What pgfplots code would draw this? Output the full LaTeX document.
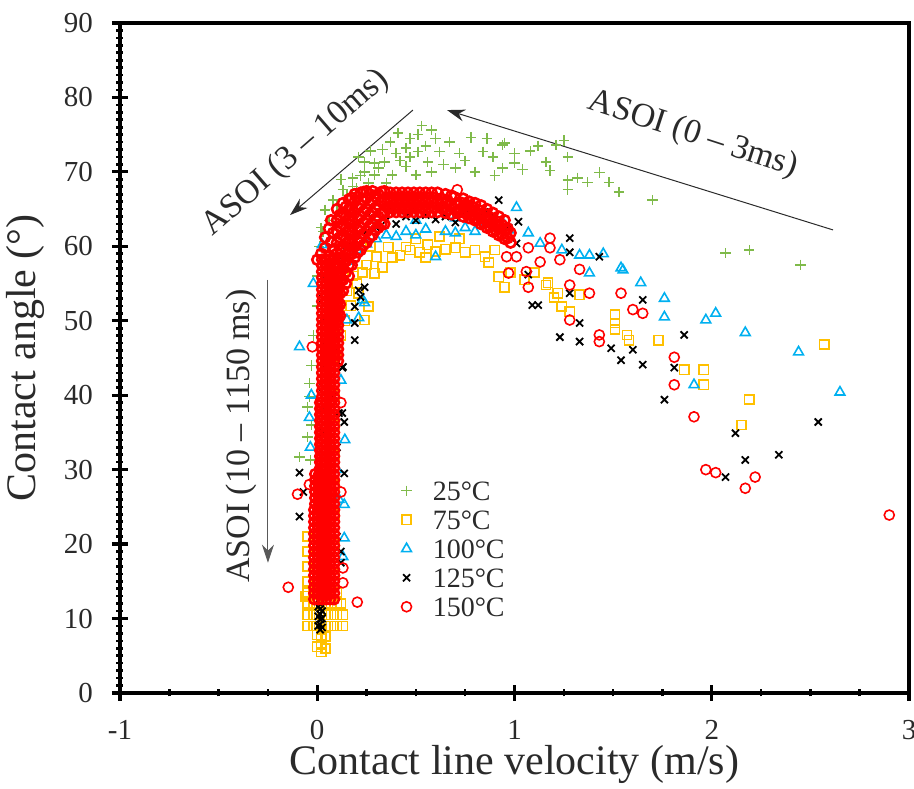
\documentclass[border=0pt]{standalone}
\usepackage{fontspec}
\setmainfont{Liberation Serif}
\usepackage{pgfplots}
\pgfplotsset{compat=1.18}
\usepackage{pgfplotstable}
\usetikzlibrary{arrows.meta}
\definecolor{cgreen}{HTML}{7FBA4A}
\definecolor{corange}{HTML}{FFC000}
\definecolor{cblue}{HTML}{00B0F0}
\definecolor{cred}{HTML}{FF0000}
\definecolor{ctext}{HTML}{2A2A2A}
\pgfplotsset{
 sG/.style={only marks, mark=+, mark size=2.6pt, color=cgreen, mark options={line width=0.7pt}},
 sO/.style={only marks, mark=square, mark size=2.3pt, color=corange, mark options={line width=0.8pt}},
 sB/.style={only marks, mark=triangle, mark size=2.8pt, color=cblue, mark options={line width=0.8pt}},
 sK/.style={only marks, mark=x, mark size=2.5pt, color=black, mark options={line width=0.9pt}},
 sR/.style={only marks, mark=o, mark size=2.5pt, color=cred, mark options={line width=0.8pt}},
 sRb/.style={only marks, mark=o, mark size=2.5pt, color=cred, mark options={line width=1.3pt}},
}
\pgfplotstableread{
y a b c d e f
12.6 -0.015 0.005 0.025 0.045 0.065 0.085
13.4 -0.015 0.005 0.025 0.045 0.065 0.085
14.2 -0.015 0.005 0.025 0.045 0.065 0.085
15.0 -0.015 0.005 0.025 0.045 0.065 0.085
15.8 -0.015 0.005 0.025 0.045 0.065 0.085
16.6 -0.015 0.005 0.025 0.045 0.065 0.085
17.4 -0.015 0.005 0.025 0.045 0.065 0.085
18.2 -0.015 0.005 0.025 0.045 0.065 0.085
19.0 -0.015 0.005 0.025 0.045 0.065 0.085
19.8 -0.015 0.005 0.025 0.045 0.065 0.085
20.6 -0.015 0.005 0.025 0.045 0.065 0.085
21.4 -0.015 0.005 0.025 0.045 0.065 0.085
22.2 -0.015 0.005 0.025 0.045 0.065 0.085
23.0 -0.015 0.005 0.025 0.045 0.065 0.085
23.8 -0.015 0.005 0.025 0.045 0.065 0.085
24.6 -0.015 0.005 0.025 0.045 0.065 0.085
25.4 -0.010 0.010 0.025 0.045 0.065 0.085
26.2 -0.010 0.010 0.025 0.045 0.065 0.085
27.0 -0.010 0.010 0.025 0.045 0.065 0.085
27.8 -0.010 0.010 0.025 0.045 0.065 0.085
28.6 -0.010 0.010 0.025 0.045 0.065 0.085
29.4 -0.010 0.010 0.025 0.045 0.065 0.085
}\redlow
\pgfplotstableread{
y a b c d e f
30.2 0.015 0.025 0.045 0.065 0.085 nan
31.0 0.015 0.025 0.045 0.065 0.085 nan
31.8 0.015 0.025 0.045 0.065 0.085 nan
32.6 0.015 0.025 0.045 0.065 0.085 nan
33.4 0.015 0.025 0.045 0.065 0.085 nan
34.2 0.015 0.025 0.045 0.065 0.085 nan
35.0 0.015 0.025 0.045 0.065 0.085 nan
35.8 0.015 0.025 0.045 0.065 0.085 nan
36.6 0.015 0.025 0.045 0.065 0.085 nan
37.4 0.015 0.025 0.045 0.065 0.085 nan
38.2 0.015 0.025 0.045 0.065 0.085 nan
39.0 0.015 0.025 0.045 0.065 0.085 nan
39.8 nan 0.025 0.045 0.065 0.085 nan
40.6 nan 0.025 0.045 0.065 0.085 nan
41.4 nan 0.025 0.045 0.065 0.085 nan
42.2 nan 0.025 0.045 0.065 0.085 nan
43.0 nan 0.025 0.045 0.065 0.085 nan
43.8 nan 0.025 0.045 0.065 0.085 nan
44.6 nan 0.025 0.045 0.065 0.085 0.105
45.4 nan 0.025 0.045 0.065 0.085 0.105
46.2 nan 0.025 0.045 0.065 0.085 0.105
47.0 nan 0.025 0.045 0.065 0.085 0.105
47.8 nan 0.025 0.045 0.065 0.085 0.105
48.6 nan 0.025 0.045 0.065 0.085 0.105
49.4 nan 0.025 0.045 0.065 0.085 0.105
50.2 nan 0.025 0.045 0.065 0.085 0.105
51.0 nan 0.025 0.045 0.065 0.085 0.105
51.8 nan 0.025 0.045 0.065 0.085 0.105
52.6 nan 0.025 0.045 0.065 0.085 0.105
53.4 nan 0.025 0.045 0.065 0.085 0.105
54.2 nan 0.025 0.045 0.065 0.085 0.105
55.0 nan 0.025 0.045 0.065 0.085 0.105
55.8 nan 0.025 0.045 0.065 0.085 0.105
56.6 nan 0.025 0.045 0.065 0.085 0.105
57.4 nan 0.025 0.045 0.065 0.085 0.105
58.2 nan 0.025 0.045 0.065 0.085 0.105
}\redup
\begin{document}
\begin{tikzpicture}
\begin{axis}[
 scale only axis, width=394.5pt, height=335pt,
 xmin=-1, xmax=3, ymin=0, ymax=90,
 xtick={-1,0,1,2,3}, ytick={0,10,...,90},
 minor x tick num=3, minor y tick num=9,
 tick pos=left, tick align=center,
 major tick length=8pt, minor tick length=3.5pt,
 every major tick/.append style={line width=1.6pt, black},
 every minor tick/.append style={line width=1.3pt, black},
 axis line style={line width=2.4pt},
 /pgf/number format/assume math mode=true,
 ticklabel style={font=\fontsize{14.5}{14.5}\selectfont, text=ctext},
 yticklabel style={xshift=-6pt},
 xticklabel style={yshift=-6pt},
 xlabel={Contact line velocity (m/s)},
 ylabel={Contact angle (°)},
 label style={font=\fontsize{21}{21}\selectfont, text=ctext},
 xlabel style={at={(axis description cs:0.5,-0.122)}, anchor=base},
 ylabel style={at={(axis description cs:-0.107,0.5)}, anchor=base},
 legend style={at={(axis description cs:0.3485,0.33)}, anchor=north west, draw=none, fill=none,
   font=\fontsize{14}{14}\selectfont, text=ctext, nodes={text height=9.5pt, text depth=0pt, inner sep=2.5pt}},
 legend cell align=left,
]
% 25 C
\addplot[sG] coordinates {(0.51,75)(0.45,73.2)(0.51,72.7)(0.56,71.3)(0.67,74)(0.62,72.7)(0.72,72.5)(0.78,74.6)(0.84,72.7)(0.89,72)(0.94,73.6)(0.94,70.5)(0.40,72.5)(0.34,71.3)(0.29,71.2)(0.24,71.3)(0.24,70)(0.18,69.2)(0.18,68)(0.13,67.6)(0.08,66.2)(0.29,69.6)(0.38,69.6)(0.45,70.7)(0.5,69.6)(0.04,64.9)(0.95,73.9)(1.0,72.5)(1.0,71.2)(1.04,70.3)(1.16,71.3)(1.21,73.6)(1.27,72)(1.27,68.9)(1.27,67.6)(1.32,69.2)(1.37,68.6)(1.43,69.9)(1.48,68.6)(1.53,67.3)(1.70,66.2)(2.07,59.1)(2.19,59.5)(2.45,57.5)(0.33,73)(0.37,74)(0.42,71.5)(0.47,72)(0.55,73.5)(0.58,70)(0.6,74.5)(0.64,71)(0.7,70.5)(0.75,71.5)(0.8,70)(0.86,74.5)(0.9,69.5)(0.2,67.8)(0.22,69.5)(0.26,68.5)(0.31,70.5)(0.35,68.5)(0.15,66.8)(0.1,65.5)(0.06,63.5)(0.03,62)(0.12,69)(1.08,72.8)(1.12,73.5)(1.18,70.2)(1.25,74.2)(0.53,76.2)(0.41,75.2)(0.47,74.5)(0.58,75.6)(0.27,72.8)(0.21,72)(-0.04,41.6)(-0.04,39.8)(-0.05,38.4)(-0.05,34.4)(-0.09,31.7)(-0.035,31.3)(-0.03,36)(-0.03,44)(-0.02,48)(0,52)(0.0,56)(0.01,60)(0.02,62.5)};
\addlegendentry{\hspace{8pt}25°C}
% 75 C
\addplot[sO] coordinates {(-0.05,9)(-0.02,9)(0.01,9)(0.04,9)(0.07,9)(0.10,9)(0.13,9)(-0.05,10.5)(-0.02,10.5)(0.01,10.5)(0.04,10.5)(0.07,10.5)(0.10,10.5)(0.13,10.5)(-0.05,12)(-0.02,12)(0.01,12)(0.04,12)(0.07,12)(0.10,12)(0.12,12)(-0.05,13.5)(-0.02,13.5)(0.01,13.5)(0.04,13.5)(0.07,13.5)(0.10,13.5)(0.02,5.5)(0.02,6.5)(0.02,7.5)(0.02,8.5)(0.0,6.2)(0.04,6.0)(0.0,7.8)(0.04,7.6)(-0.05,15)(-0.05,17)(-0.05,19)(-0.05,21)(-0.06,13)(0.09,16)(0.09,20)(0.09,24)(0.09,28)(0.09,32)(0.09,36)(0.09,40)(0.09,44)(0.1,46)(0.12,48)(0.14,50)(0.21,53.7)(0.26,51.9)(0.24,50.1)(0.17,52)(0.2,55)(0.23,56.5)(0.29,56.4)(0.33,57.2)(0.38,58.5)(0.36,59.9)(0.45,59.9)(0.47,59.5)(0.42,58.8)(0.52,59.2)(0.56,60.2)(0.6,59.3)(0.65,59.6)(0.7,59.8)(0.75,59.2)(0.8,59.5)(0.85,58.6)(0.87,57.8)(0.92,55.9)(0.95,54.5)(0.98,56.5)(0.9,59.5)(0.3,58.6)(0.25,57.5)(0.18,56)(0.15,54)(0.12,52)(0.27,60)(0.5,61)(0.62,61.3)(0.72,61)(0.55,58.5)(1.16,54.8)(1.20,53.1)(1.24,51.9)(1.28,51.2)(1.51,50.8)(1.51,49.7)(1.51,48.8)(1.57,48.1)(1.58,47.4)(1.73,47.4)(1.86,43.4)(1.96,43.4)(1.96,41.4)(1.33,53.5)(1.17,55.1)(1.22,53.7)(2.19,39.4)(2.15,36.0)(2.57,46.8)(1.05,55.5)(1.1,56.5)};
\addlegendentry{\hspace{8pt}75°C}
% 100 C
\addplot[sB] coordinates {(0.6,58.6)(0.15,58)(0.2,59.5)(0.25,60.3)(0.3,61)(0.35,61.5)(0.4,61.3)(0.45,62)(0.5,61.5)(0.55,62.3)(0.65,62)(0.7,61.8)(0.75,62.5)(0.8,62)(0.85,63)(0.9,62.5)(0.95,62.8)(0.5,63.5)(0.7,63.8)(1.01,65.2)(1.07,61.8)(1.13,60.4)(1.33,58.8)(1.38,58.8)(1.54,57.1)(1.38,56.4)(1.55,56.8)(1.64,55.1)(1.76,53.0)(1.76,50.5)(1.97,50.1)(2.02,51.0)(2.17,48.4)(2.44,45.8)(2.65,40.4)(1.91,41.4)(1.24,59.5)(1.45,59)(0.97,62.2)(-0.09,46.5)(-0.04,37)(-0.035,33)(-0.03,40)(-0.02,55)(0.025,60.2)(0.137,25.3)(0.137,20.8)(0.14,34)(0.23,52.8)(0.15,50.1)(0.24,52.4)(0.21,50.4)(0.13,18.3)(0.12,42)(0.1,30)(0.11,26)};
\addlegendentry{\hspace{8pt}100°C}
% 125 C
\addplot[sK] coordinates {(0.015,8.5)(0.015,9.2)(0.015,9.9)(0.015,10.6)(0.015,11.3)(0.015,12)(0.015,12.7)(0.005,9)(0.005,10.3)(0.005,11.6)(0.025,8.8)(0.025,10)(0.025,11)(-0.09,29.6)(-0.09,23.7)(-0.07,27)(0.137,29.5)(0.137,36.4)(0.127,37.6)(0.21,54.1)(0.19,49.7)(0.19,47.4)(0.127,43.7)(0.24,54.5)(0.22,53.2)(0.19,51.9)(0.13,43.8)(0.11,37.6)(0.12,19)(0.12,17.5)(0.1,21)(0.1,33)(0.08,40)(0.09,46)(0.1,48)(0.03,14)(0.03,17)(0.03,20)(0.03,23)(0.03,26)(0.03,29)(0.03,32)(0.03,35)(0.03,38)(0.03,41)(0.03,44)(0.03,47)(0.03,50)(0.03,53)(0.03,56)(0.1,58)(0.15,60)(0.2,61.5)(0.25,62)(0.3,62.5)(0.35,63.5)(0.4,63)(0.45,64)(0.5,63.5)(0.55,64.2)(0.6,63.6)(0.65,64)(0.7,63.2)(0.75,64.5)(0.8,63.8)(0.85,64.6)(0.92,66.2)(0.9,64)(0.28,63.8)(0.38,64.8)(0.48,65)(0.62,65)(1.28,61.1)(1.28,59.2)(1.43,58.6)(1.02,63.3)(1.01,60.4)(1.07,56.2)(1.28,53.7)(1.09,52.1)(1.12,52.1)(1.33,49.7)(1.23,47.8)(1.33,47.2)(1.49,46.3)(1.54,44.7)(1.60,46.1)(1.65,44.1)(1.86,48.1)(1.81,43.7)(1.76,39.4)(1.65,52.8)(2.12,34.9)(2.17,31.3)(2.34,32.0)(2.07,29.0)(2.54,36.4)(0.97,62.5)};
\addlegendentry{\hspace{8pt}125°C}
% 150 C
\addplot[sR] coordinates {(1.18,61.1)(1.18,59.8)(1.23,58.2)(1.33,56.9)(1.28,54.8)(1.38,53.7)(1.54,53.7)(1.07,59.8)(1.01,58.6)(0.96,58.6)(1.13,57.9)(1.06,56.6)(0.97,56.4)(1.07,54.5)(1.60,51.5)(1.65,51.0)(1.28,50.1)(1.43,48.1)(1.43,47.2)(1.81,45.1)(1.81,41.4)(1.91,37.1)(1.97,30.0)(2.02,29.6)(2.22,29.0)(2.17,27.5)(2.90,23.9)(-0.147,14.2)(-0.1,26.7)(-0.025,46.5)(0.203,12.2)(0.13,16.8)(0.13,14.8)(0.12,39)(0.12,27)(-0.04,28)(0.71,67.6)};
\addlegendentry{\hspace{8pt}150°C}
\addplot[sRb, forget plot] coordinates {
(0.10,50)(0.10,51.5)(0.10,53)(0.10,54.5)(0.10,56)(0.10,57.5)(0.10,59)(0.10,60.5)(0.10,62)(0.10,63.5)(0.10,65)
(0.13,54)(0.13,55.5)(0.13,57)(0.13,58.5)(0.13,60)(0.13,61.5)(0.13,63)(0.13,64.5)(0.13,65.8)
(0.16,56)(0.16,57.5)(0.16,59)(0.16,60.5)(0.16,62)(0.16,63.5)(0.16,65)(0.16,66.3)
(0.19,58.5)(0.19,60)(0.19,61.5)(0.19,63)(0.19,64.5)(0.19,66)(0.19,67)
(0.22,59.5)(0.22,61)(0.22,62.5)(0.22,64)(0.22,65.5)(0.22,67.2)
(0.25,60.5)(0.25,62)(0.25,63.5)(0.25,65)(0.25,66.5)(0.25,67.4)
(0.28,61.5)(0.28,63)(0.28,64.5)(0.28,66)(0.28,67.4)
(0.31,62.5)(0.31,64)(0.31,65.5)(0.31,67)
(0.34,63)(0.34,64.5)(0.34,66)(0.34,67.4)
(0.37,64.6)(0.37,65.9)(0.37,67.2)(0.40,64.6)(0.40,65.9)(0.40,67.2)(0.43,64.6)(0.43,65.9)(0.43,67.2)
(0.46,64.6)(0.46,65.9)(0.46,67.2)(0.49,64.6)(0.49,65.9)(0.49,67.2)(0.52,64.6)(0.52,65.9)(0.52,67.2)
(0.55,64.6)(0.55,65.9)(0.55,67.2)(0.58,64.6)(0.58,65.9)(0.58,67.2)(0.61,64.6)(0.61,65.9)(0.61,67.2)
(0.65,64.5)(0.65,65.8)(0.65,67)(0.68,64.3)(0.68,65.6)(0.68,66.8)(0.71,64.5)(0.71,65.8)
(0.74,64)(0.74,65.3)(0.74,66.4)(0.77,63.8)(0.77,65)(0.77,66)(0.80,63.5)(0.80,64.8)(0.80,65.8)
(0.83,63)(0.83,64.3)(0.83,65.5)(0.86,62.5)(0.86,63.8)(0.86,65)(0.89,62)(0.89,63.3)(0.89,64.5)
(0.92,61.5)(0.92,62.8)(0.92,64)(0.95,61)(0.95,62.3)(0.95,63.5)(0.98,60.5)(0.98,61.8)
(0.0,58.2)(0.02,59)(0.04,59.8)(0.04,61.2)(0.06,62.4)(0.07,60.6)(0.07,63.5)(0.04,58.2)(0.06,58.8)(0.08,59.6)(0.08,61.8)
(0.115,50.7)(0.115,52.2)(0.115,53.7)(0.115,55.2)(0.115,56.7)(0.115,58.2)(0.115,59.7)(0.115,61.2)(0.115,62.7)(0.115,64.2)
(0.145,55)(0.145,56.5)(0.145,58)(0.145,59.5)(0.145,61)(0.145,62.5)(0.145,64)(0.145,65.3)
(0.175,57.5)(0.175,59)(0.175,60.5)(0.175,62)(0.175,63.5)(0.175,65)(0.175,66.5)
(0.205,59.2)(0.205,60.7)(0.205,62.2)(0.205,63.7)(0.205,65.2)(0.205,66.6)
(0.235,60.2)(0.235,61.7)(0.235,63.2)(0.235,64.7)(0.235,66.2)(0.235,67.3)
(0.265,61.2)(0.265,62.7)(0.265,64.2)(0.265,65.7)(0.265,67)
(0.295,62.2)(0.295,63.7)(0.295,65.2)(0.295,66.7)
(0.325,63)(0.325,64.5)(0.325,66)(0.325,67.3)
(0.355,65.2)(0.355,66.5)(0.385,65.2)(0.385,66.5)(0.415,65.2)(0.415,66.5)(0.445,65.2)(0.445,66.5)(0.475,65.2)(0.475,66.5)
(0.505,65.2)(0.505,66.5)(0.535,65.2)(0.535,66.5)(0.565,65.2)(0.565,66.5)(0.595,65.2)(0.595,66.5)
(0.63,65.1)(0.63,66.4)(0.66,64.9)(0.66,66.2)(0.695,65.0)(0.695,66.6)(0.725,64.6)(0.725,65.9)(0.755,64.4)(0.755,65.6)
(0.785,64.1)(0.785,65.3)(0.815,63.6)(0.815,64.9)(0.845,63.1)(0.845,64.4)(0.875,62.6)(0.875,63.9)(0.905,62.1)(0.905,63.4)(0.935,61.6)(0.935,62.9)(0.965,61.1)(0.965,62.4)};
\addplot[sRb, forget plot] table[x=a,y=y]{\redlow};
\addplot[sRb, forget plot] table[x=b,y=y]{\redlow};
\addplot[sRb, forget plot] table[x=c,y=y]{\redlow};
\addplot[sRb, forget plot] table[x=d,y=y]{\redlow};
\addplot[sRb, forget plot] table[x=e,y=y]{\redlow};
\addplot[sRb, forget plot] table[x=f,y=y]{\redlow};
\addplot[sRb, forget plot] table[x=a,y=y]{\redup};
\addplot[sRb, forget plot] table[x=b,y=y]{\redup};
\addplot[sRb, forget plot] table[x=c,y=y]{\redup};
\addplot[sRb, forget plot] table[x=d,y=y]{\redup};
\addplot[sRb, forget plot] table[x=e,y=y]{\redup};
\addplot[sRb, forget plot] table[x=f,y=y]{\redup};
% annotations
\draw[-{Stealth[length=9pt,width=6pt]}, line width=0.5pt, ctext] (axis cs:2.615,62.2) -- (axis cs:0.658,78.3);
\node[rotate=-18, font=\fontsize{17}{17}\selectfont, text=ctext] at (axis cs:1.905,75.0) {ASOI (0 -- 3ms)};
\draw[-{Stealth[length=9pt,width=6pt]}, line width=0.5pt, ctext] (axis cs:0.485,78.3) -- (axis cs:-0.138,64.2);
\node[rotate=41, font=\fontsize{17}{17}\selectfont, text=ctext] at (axis cs:-0.108,72.5) {ASOI (3 -- 10ms)};
\draw[-{Stealth[length=9pt,width=6pt]}, line width=0.5pt, black!65] (axis cs:-0.25,55.5) -- (axis cs:-0.25,17.5);
\node[rotate=90, font=\fontsize{17}{17}\selectfont, text=ctext] at (axis cs:-0.387,34.5) {ASOI (10 -- 1150 ms)};
\end{axis}
\pgfresetboundingbox
\path[use as bounding box] ([shift={(-60pt,-48pt)}]current axis.south west) rectangle ([shift={(2.5pt,11.5pt)}]current axis.north east);
\end{tikzpicture}
\end{document}
